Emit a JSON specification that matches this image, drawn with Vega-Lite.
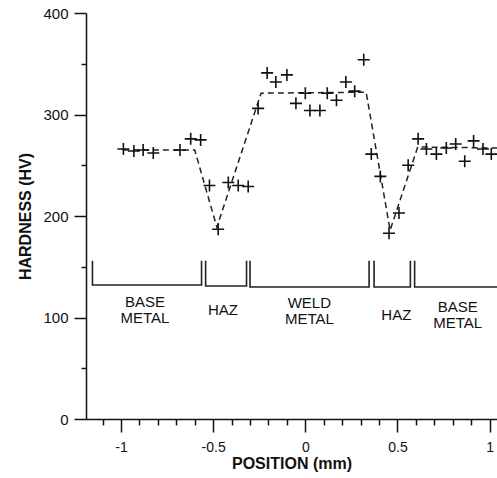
{
  "$schema": "https://vega.github.io/schema/vega-lite/v6.json",
  "width": 411,
  "height": 406,
  "autosize": {"type": "none"},
  "padding": {"left": 86, "top": 13, "right": 0, "bottom": 59},
  "background": "white",
  "config": {
    "view": {"stroke": null},
    "font": "Liberation Sans",
    "axis": {
      "domainColor": "#111",
      "tickColor": "#111",
      "domainWidth": 1.5,
      "tickWidth": 1.5,
      "grid": false,
      "labelColor": "#111",
      "titleColor": "#111",
      "labelFont": "Liberation Sans",
      "titleFont": "Liberation Sans",
      "labelFontSize": 15,
      "titleFontSize": 16,
      "titleFontWeight": "bold"
    }
  },
  "datasets": {
    "points": [
      {"pos": -0.987, "hv": 266},
      {"pos": -0.93, "hv": 264},
      {"pos": -0.88, "hv": 265},
      {"pos": -0.825, "hv": 262},
      {"pos": -0.68, "hv": 265},
      {"pos": -0.622, "hv": 276},
      {"pos": -0.568, "hv": 275},
      {"pos": -0.52, "hv": 230},
      {"pos": -0.473, "hv": 187},
      {"pos": -0.418, "hv": 233},
      {"pos": -0.364, "hv": 230},
      {"pos": -0.31, "hv": 229},
      {"pos": -0.256, "hv": 306},
      {"pos": -0.207, "hv": 341},
      {"pos": -0.16, "hv": 332},
      {"pos": -0.1, "hv": 339},
      {"pos": -0.051, "hv": 311},
      {"pos": 0.0, "hv": 321},
      {"pos": 0.025, "hv": 304},
      {"pos": 0.079, "hv": 304},
      {"pos": 0.119, "hv": 321},
      {"pos": 0.169, "hv": 314},
      {"pos": 0.22, "hv": 332},
      {"pos": 0.268, "hv": 323},
      {"pos": 0.317, "hv": 354},
      {"pos": 0.358, "hv": 261},
      {"pos": 0.407, "hv": 239},
      {"pos": 0.454, "hv": 183},
      {"pos": 0.508, "hv": 203},
      {"pos": 0.558, "hv": 250},
      {"pos": 0.612, "hv": 276},
      {"pos": 0.657, "hv": 266},
      {"pos": 0.711, "hv": 261},
      {"pos": 0.765, "hv": 267},
      {"pos": 0.816, "hv": 271},
      {"pos": 0.865, "hv": 254},
      {"pos": 0.913, "hv": 274},
      {"pos": 0.964, "hv": 266},
      {"pos": 1.009, "hv": 261}
    ],
    "curve": [
      {"pos": -0.99, "hv": 265},
      {"pos": -0.6, "hv": 265},
      {"pos": -0.48, "hv": 189},
      {"pos": -0.24, "hv": 321},
      {"pos": 0.33, "hv": 322},
      {"pos": 0.46, "hv": 186},
      {"pos": 0.61, "hv": 268},
      {"pos": 1.04, "hv": 267}
    ],
    "brackets": [
      {"g": 1, "o": 1, "pos": -1.155, "hv": 156},
      {"g": 1, "o": 2, "pos": -1.155, "hv": 132},
      {"g": 1, "o": 3, "pos": -0.563, "hv": 132},
      {"g": 1, "o": 4, "pos": -0.563, "hv": 156},
      {"g": 2, "o": 1, "pos": -0.541, "hv": 156},
      {"g": 2, "o": 2, "pos": -0.541, "hv": 131},
      {"g": 2, "o": 3, "pos": -0.319, "hv": 131},
      {"g": 2, "o": 4, "pos": -0.319, "hv": 156},
      {"g": 3, "o": 1, "pos": -0.3, "hv": 156},
      {"g": 3, "o": 2, "pos": -0.3, "hv": 130},
      {"g": 3, "o": 3, "pos": 0.346, "hv": 130},
      {"g": 3, "o": 4, "pos": 0.346, "hv": 156},
      {"g": 4, "o": 1, "pos": 0.373, "hv": 156},
      {"g": 4, "o": 2, "pos": 0.373, "hv": 130},
      {"g": 4, "o": 3, "pos": 0.57, "hv": 130},
      {"g": 4, "o": 4, "pos": 0.57, "hv": 156},
      {"g": 5, "o": 1, "pos": 0.593, "hv": 156},
      {"g": 5, "o": 2, "pos": 0.593, "hv": 130},
      {"g": 5, "o": 3, "pos": 1.04, "hv": 130}
    ],
    "labels": [
      {"pos": -0.87, "hv": 115.6, "label": "BASE\nMETAL"},
      {"pos": -0.447, "hv": 107.4, "label": "HAZ"},
      {"pos": 0.022, "hv": 114.3, "label": "WELD\nMETAL"},
      {"pos": 0.494, "hv": 102.5, "label": "HAZ"},
      {"pos": 0.827, "hv": 110.6, "label": "BASE\nMETAL"}
    ]
  },
  "resolve": {"axis": {"x": "independent", "y": "independent"}},
  "layer": [
    {
      "data": {"name": "curve"},
      "mark": {"type": "line", "color": "#222", "strokeWidth": 1.5, "strokeDash": [6, 4]},
      "encoding": {
        "x": {
          "field": "pos", "type": "quantitative",
          "scale": {"domain": [-1.19, 1.04], "nice": false, "zero": false},
          "axis": {
            "orient": "bottom",
            "values": [-1.1, -0.9, -0.8, -0.7, -0.6, -0.4, -0.3, -0.2, -0.1, 0.1, 0.2, 0.3, 0.4, 0.6, 0.7, 0.8, 0.9],
            "labels": false, "domain": false, "tickSize": 6, "title": null
          }
        },
        "y": {
          "field": "hv", "type": "quantitative",
          "scale": {"domain": [0, 400], "nice": false},
          "axis": {
            "orient": "left",
            "values": [50, 150, 250, 350],
            "labels": false, "domain": false, "tickSize": 5, "title": null
          }
        }
      }
    },
    {
      "data": {"name": "points"},
      "mark": {"type": "point", "shape": "M-1,0H1M0,-1V1", "filled": false, "stroke": "#111", "strokeWidth": 1.6, "size": 144, "opacity": 1},
      "encoding": {
        "x": {
          "field": "pos", "type": "quantitative",
          "scale": {"domain": [-1.19, 1.04], "nice": false, "zero": false},
          "axis": {
            "orient": "bottom",
            "values": [-1, -0.5, 0, 0.5, 1],
            "labelExpr": "toString(datum.value)",
            "labelFontSize": 14,
            "tickSize": 13,
            "labelPadding": 8,
            "title": "POSITION (mm)",
            "titleY": 49,
            "titleBaseline": "alphabetic"
          }
        },
        "y": {
          "field": "hv", "type": "quantitative",
          "scale": {"domain": [0, 400], "nice": false},
          "axis": {
            "orient": "left",
            "values": [0, 100, 200, 300, 400],
            "tickSize": 12,
            "labelPadding": 6,
            "title": "HARDNESS (HV)",
            "titleX": -61,
            "titleBaseline": "middle"
          }
        }
      }
    },
    {
      "data": {"name": "brackets"},
      "mark": {"type": "line", "color": "#222", "strokeWidth": 1.6},
      "encoding": {
        "x": {"field": "pos", "type": "quantitative", "scale": {"domain": [-1.19, 1.04], "nice": false, "zero": false}, "axis": null},
        "y": {"field": "hv", "type": "quantitative", "scale": {"domain": [0, 400], "nice": false}, "axis": null},
        "detail": {"field": "g"},
        "order": {"field": "o", "type": "quantitative"}
      }
    },
    {
      "data": {"name": "labels"},
      "mark": {"type": "text", "fontSize": 15, "lineHeight": 16, "lineBreak": "\n", "align": "center", "baseline": "middle", "color": "#111", "font": "Liberation Sans"},
      "encoding": {
        "x": {"field": "pos", "type": "quantitative", "scale": {"domain": [-1.19, 1.04], "nice": false, "zero": false}, "axis": null},
        "y": {"field": "hv", "type": "quantitative", "scale": {"domain": [0, 400], "nice": false}, "axis": null},
        "text": {"field": "label"}
      }
    }
  ]
}
